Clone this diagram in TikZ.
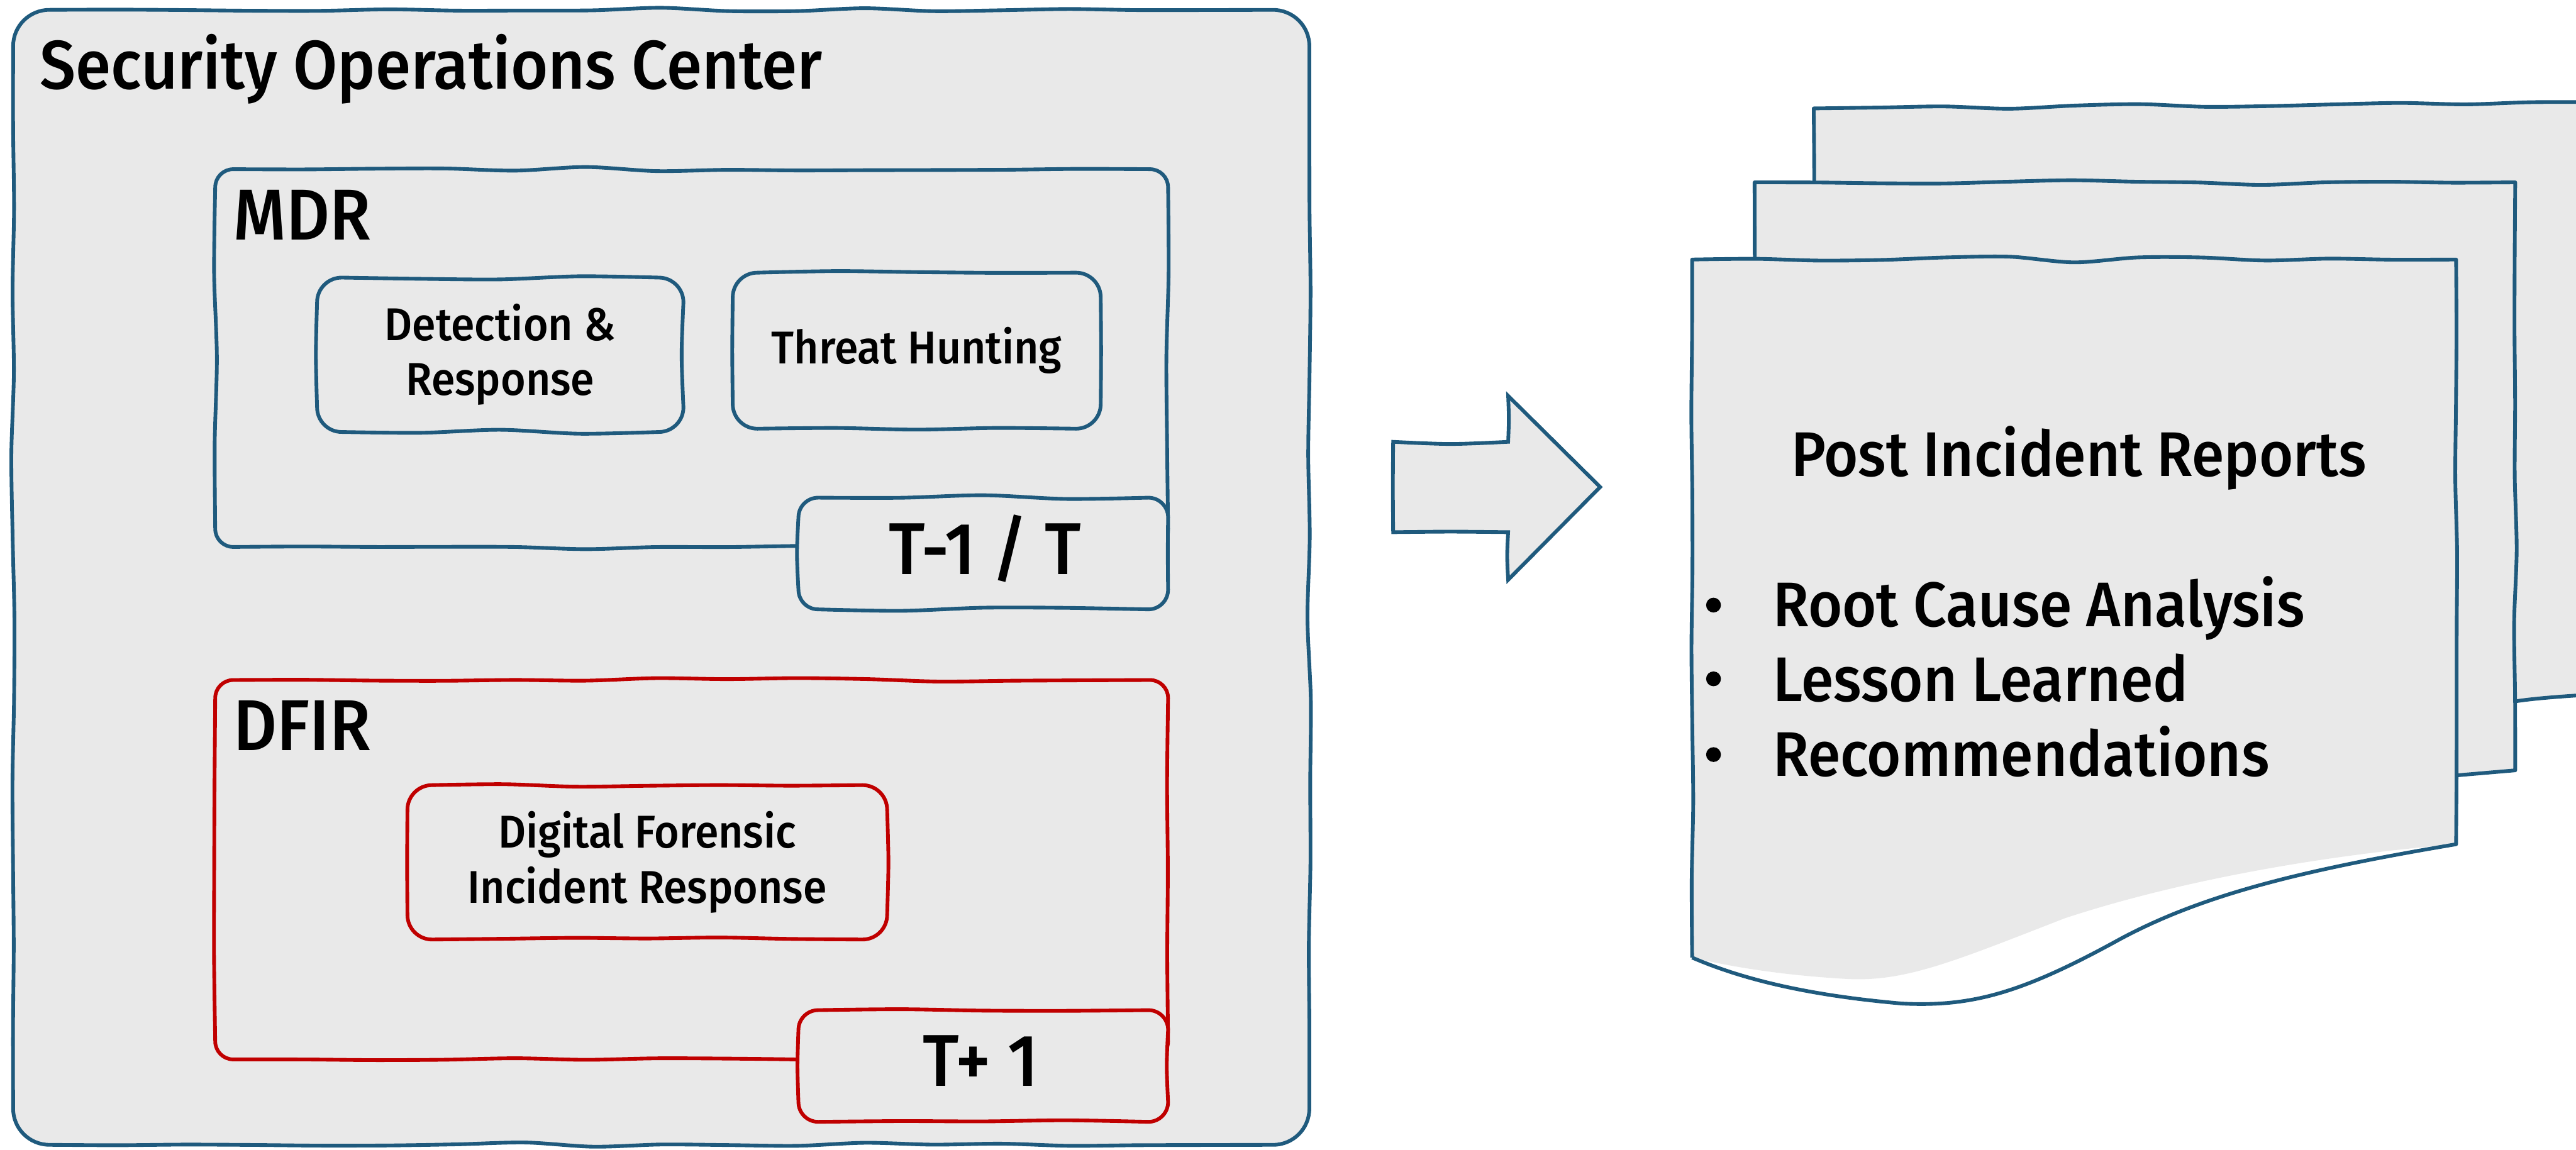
\documentclass[tikz,border=0pt]{standalone}
\usepackage{fontspec}
\setmainfont{Fira Sans Medium}[FakeStretch=0.93]
\usetikzlibrary{fit}
\definecolor{sblue}{HTML}{1F5A7D}
\definecolor{sred}{HTML}{C00000}
\definecolor{sfill}{HTML}{E9E9E9}
\tikzset{
  blueb/.style={draw=sblue,fill=sfill,line width=1.6pt,line join=round},
  redb/.style={draw=sred,fill=sfill,line width=1.6pt,line join=round},
  area/.style={inner sep=0pt,outer sep=0pt},
  hdr/.style={font=\fontsize{31.2}{37}\selectfont,inner sep=0pt,anchor=base west},
  soctitle/.style={font=\fontsize{29.8}{35}\selectfont,inner sep=0pt,anchor=base west},
  subtxt/.style={font=\fontsize{19.9}{24}\selectfont,inner sep=0pt,anchor=base},
  tabtxt/.style={font=\fontsize{31.8}{38}\selectfont,inner sep=0pt,anchor=base},
  doctxt/.style={font=\fontsize{27.3}{32}\selectfont,inner sep=0pt,anchor=base west},
  bul/.style={circle,fill=black,inner sep=0pt,minimum size=6.4pt},
  docline/.style={draw=sblue,line width=1.6pt,line join=round},
}
\def\skamp{1.5}
% wavy straight edge from (#1,#2) to (#3,#4), #5 samples, #6/#7 x/y offset factors
\newcommand\wl[7]{-- plot[smooth,variable=\sk,domain=0:1,samples=#5]
  ({(#1)+\sk*((#3)-(#1))+(#6)*\skamp*rand*sin(180*\sk)},{(#2)+\sk*((#4)-(#2))+(#7)*\skamp*rand*sin(180*\sk)})}
% sketched rounded box: #1 style, #2 x1, #3 y1, #4 x2, #5 y2, #6 radius
\newcommand\skbox[6]{%
  \pgfmathtruncatemacro\nh{max(3,round((#4-#2-2*#6)/40))}%
  \pgfmathtruncatemacro\nv{max(3,round((#5-#3-2*#6)/45))}%
  \path[#1] ({#2+#6},#3) \wl{#2+#6}{#3}{#4-#6}{#3}{\nh}{0}{1}
    .. controls ({#4-0.448*#6},#3) and (#4,{#3+0.448*#6}) .. (#4,{#3+#6})
    \wl{#4}{#3+#6}{#4}{#5-#6}{\nv}{0.8}{0}
    .. controls (#4,{#5-0.448*#6}) and ({#4-0.448*#6},#5) .. ({#4-#6},#5)
    \wl{#4-#6}{#5}{#2+#6}{#5}{\nh}{0}{1}
    .. controls ({#2+0.448*#6},#5) and (#2,{#5-0.448*#6}) .. (#2,{#5-#6})
    \wl{#2}{#5-#6}{#2}{#3+#6}{\nv}{0.8}{0}
    .. controls (#2,{#3+0.448*#6}) and ({#2+0.448*#6},#3) .. ({#2+#6},#3) -- cycle;}
\begin{document}
\begin{tikzpicture}[x=0.025cm,y=-0.025cm]
\pgfmathsetseed{11}
\useasboundingbox (0,0) rectangle (1568,700);
\clip (0,0) rectangle (1568,700);

% Security Operations Center
\node[area,fit={(8,6) (797,697)}] (soc) {};
\skbox{blueb}{8}{6}{797}{697}{22}
\node[soctitle] (soct) at (24,54) {Security Operations Center};

% MDR
\node[area,fit={(131,103) (711,333)}] (mdr) {};
\skbox{blueb}{131}{103}{711}{333}{11}
\node[hdr] (mdrt) at (142,146) {MDR};
\node[area,fit={(193,169) (416,263)}] (dr) {};
\skbox{blueb}{193}{169}{416}{263}{15}
\node[subtxt] (dr1) at (304.5,207.3) {Detection \&};
\node[subtxt] (dr2) at (304.5,240.5) {Response};
\node[area,fit={(446,166) (670,261)}] (th) {};
\skbox{blueb}{446}{166}{670}{261}{15}
\node[subtxt] (thl) at (558,221.3) {Threat Hunting};
\node[area,fit={(486,303) (711,371)}] (tab1) {};
\skbox{blueb}{486}{303}{711}{371}{12}
\node[tabtxt] (tab1l) at (599.6,349.8) {T-1 / T};

% DFIR
\node[area,fit={(131,414) (711,645)}] (dfir) {};
\skbox{redb}{131}{414}{711}{645}{11}
\node[hdr] (dfirt) at (142,457) {DFIR};
\node[area,fit={(248,478) (540,572)}] (df) {};
\skbox{redb}{248}{478}{540}{572}{15}
\node[subtxt] (df1) at (394,516.4) {Digital Forensic};
\node[subtxt] (df2) at (394,550) {Incident Response};
\node[area,fit={(486,615) (711,683)}] (tab2) {};
\skbox{redb}{486}{615}{711}{683}{12}
\node[tabtxt] (tab2l) at (597,661.4) {T+ 1};

% block arrow
\path[blueb,line join=miter] (848,269) \wl{848}{269}{918}{269}{3}{0}{1} \wl{918}{269}{918}{241}{3}{0.5}{0}
  -- (974,296.5) -- (918,353) \wl{918}{353}{918}{324}{3}{0.5}{0} \wl{918}{324}{848}{324}{3}{0}{1}
  \wl{848}{324}{848}{269}{3}{0.6}{0} -- cycle;

% document stack: back
\path[docline,fill=sfill] (1104,430) \wl{1104}{430}{1104}{66}{9}{0.7}{0} \wl{1104}{66}{1620}{62}{14}{0}{1.2}
  -- (1620,421) .. controls (1590,422) and (1550,424) .. (1531,427) -- cycle;
% middle
\path[docline,fill=sfill] (1068,470) \wl{1068}{470}{1068}{111}{9}{0.7}{0} \wl{1068}{111}{1531}{111}{13}{0}{1.2}
  \wl{1531}{111}{1531}{469}{9}{0.7}{0} -- (1496,472) -- cycle;
% front: fill then outline
\fill[sfill] (1030,158) -- (1495,158) -- (1495,514)
  .. controls (1420,520) and (1330,535) .. (1257,559)
  .. controls (1190,585) and (1160,598) .. (1124,596)
  .. controls (1090,594) and (1060,590) .. (1030,583) -- cycle;
\path[docline] (1030,583) \wl{1030}{583}{1030}{158}{10}{0.7}{0} \wl{1030}{158}{1495}{158}{13}{0}{1.2}
  \wl{1495}{158}{1495}{514}{9}{0.7}{0}
  .. controls (1400,530) and (1340,545) .. (1290,572)
  .. controls (1230,605) and (1200,613) .. (1158,611)
  .. controls (1100,606) and (1060,596) .. (1030,583);

\node[doctxt] (pir) at (1090,290) {Post Incident Reports};
\node[bul] (b1) at (1043,368.4) {};
\node[doctxt] (rca) at (1079,381.5) {Root Cause Analysis};
\node[bul] (b2) at (1043,413.3) {};
\node[doctxt] (ll) at (1079,427) {Lesson Learned};
\node[bul] (b3) at (1043,459.4) {};
\node[doctxt] (rec) at (1079,472.7) {Recommendations};
\end{tikzpicture}
\end{document}
